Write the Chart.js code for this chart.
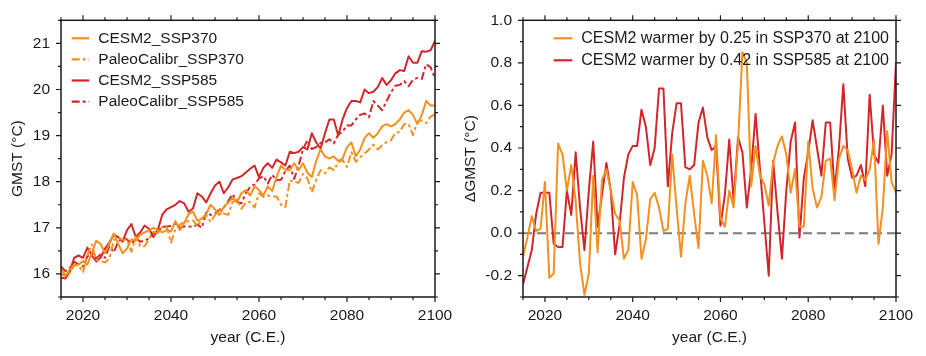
<!DOCTYPE html>
<html><head><meta charset="utf-8">
<script src="https://cdn.jsdelivr.net/npm/chart.js@4.4.1/dist/chart.umd.min.js"></script>
<style>
html,body{margin:0;padding:0;background:#fff;}
#wrap{position:relative;width:926px;height:356px;overflow:hidden;}
.panel{position:absolute;top:0;width:463px;height:356px;}
canvas{display:block;}
</style></head><body>
<div id="wrap">
<div class="panel" style="left:0"><canvas id="c1" width="463" height="356"></canvas></div>
<div class="panel" style="left:463px"><canvas id="c2" width="463" height="356"></canvas></div>
</div>
<script>
// ---- categories ----
const years = [
2015,2016,2017,2018,2019,2020,2021,2022,2023,2024,
2025,2026,2027,2028,2029,2030,2031,2032,2033,2034,
2035,2036,2037,2038,2039,2040,2041,2042,2043,2044,
2045,2046,2047,2048,2049,2050,2051,2052,2053,2054,
2055,2056,2057,2058,2059,2060,2061,2062,2063,2064,
2065,2066,2067,2068,2069,2070,2071,2072,2073,2074,
2075,2076,2077,2078,2079,2080,2081,2082,2083,2084,
2085,2086,2087,2088,2089,2090,2091,2092,2093,2094,
2095,2096,2097,2098,2099,2100];

// ---- left panel: GMST (°C) ----
const cesm2Ssp370 = [
16.0,15.95,16.1,16.2,16.2,16.28,16.2,16.45,16.72,16.65,
16.45,16.65,16.88,16.65,16.45,16.55,16.75,16.72,16.85,16.9,
16.95,17.0,16.95,16.9,16.95,16.92,17.15,16.95,17.1,17.3,
17.35,17.15,17.2,17.3,17.5,17.4,17.28,17.45,17.55,17.65,
17.55,17.75,17.82,17.7,17.9,17.82,17.7,17.9,17.8,18.1,
18.35,18.25,18.25,18.4,18.25,18.4,18.2,18.1,18.45,18.7,
18.55,18.5,18.55,18.45,18.5,18.75,18.85,18.55,18.7,18.95,
19.05,18.95,19.05,19.2,19.25,19.2,19.25,19.35,19.5,19.55,
19.45,19.25,19.45,19.75,19.65,19.65];
const paleoCalibrSsp370 = [
16.11,15.97,16.02,16.19,16.18,16.04,16.41,16.64,16.3,16.28,
16.25,16.33,16.73,16.79,16.74,16.74,16.48,16.81,16.6,16.6,
16.75,16.91,16.89,17.02,17.03,16.68,16.97,17.07,17.13,17.14,
17.16,17.03,17.19,17.28,17.13,17.28,17.39,17.31,17.28,17.56,
17.62,17.41,17.55,17.56,17.44,17.75,17.67,17.7,17.68,17.68,
17.5,17.45,18.03,17.99,17.98,18.17,18.07,17.77,18.04,18.25,
18.18,18.31,18.25,18.42,18.47,18.32,18.64,18.43,18.53,18.61,
18.7,18.8,18.7,18.79,18.86,18.9,19.06,19.08,19.25,19.25,
19.01,19.3,19.33,19.27,19.41,19.46];
const cesm2Ssp585 = [
15.92,15.9,16.05,16.35,16.4,16.35,16.57,16.4,16.27,16.35,
16.55,16.68,16.85,16.8,16.7,16.95,17.08,16.8,16.9,17.05,
16.98,16.8,16.95,17.28,17.4,17.45,17.5,17.58,17.53,17.35,
17.42,17.75,17.68,17.55,17.75,17.92,18.0,17.75,17.88,18.05,
18.08,18.12,18.2,18.28,18.35,18.1,18.3,18.4,18.3,18.48,
18.42,18.35,18.65,18.62,18.65,18.75,18.7,19.05,18.85,18.72,
19.05,19.35,19.35,19.0,19.35,19.6,19.75,19.75,19.72,20.0,
19.92,19.95,20.05,20.25,20.1,20.2,20.35,20.42,20.4,20.72,
20.58,20.58,20.83,20.82,20.85,21.05];
const paleoCalibrSsp585 = [
16.16,16.06,16.13,16.26,16.21,16.16,16.38,16.45,16.34,16.42,
16.35,16.6,16.47,16.7,16.78,16.75,16.65,16.77,16.7,16.72,
16.77,16.9,16.91,17.02,17.03,17.04,17.09,17.0,17.03,17.03,
17.02,17.07,17.0,17.33,17.28,17.31,17.39,17.44,17.58,17.73,
17.56,17.53,17.75,17.89,17.94,18.07,18.12,17.96,18.15,18.03,
18.04,18.23,18.35,18.06,18.35,18.7,18.9,18.71,18.75,18.84,
18.85,18.92,18.83,19.02,19.09,19.22,19.22,19.35,19.45,19.48,
19.4,19.75,19.65,19.55,19.75,19.94,20.08,20.1,20.18,20.07,
20.21,20.25,20.23,20.55,20.48,20.25];

// ---- right panel: ΔGMST (°C) ----
const warmerSsp370 = [
-0.11,-0.02,0.08,0.01,0.02,0.24,-0.21,-0.19,0.42,0.37,
0.2,0.32,0.15,-0.14,-0.29,-0.19,0.27,-0.09,0.25,0.3,
0.2,0.09,0.06,-0.12,-0.08,0.24,0.18,-0.12,-0.03,0.16,
0.19,0.12,0.01,0.02,0.37,0.12,-0.11,0.14,0.27,0.09,
-0.07,0.34,0.27,0.14,0.46,0.07,0.03,0.2,0.12,0.42,
0.85,0.8,0.22,0.41,0.27,0.23,0.13,0.33,0.41,0.455,
0.37,0.19,0.3,0.03,0.03,0.43,0.21,0.12,0.17,0.34,
0.35,0.155,0.35,0.41,0.39,0.3,0.19,0.27,0.25,0.3,
0.44,-0.05,0.12,0.48,0.24,0.19];
const warmerSsp585 = [
-0.24,-0.16,-0.08,0.09,0.19,0.19,0.19,-0.05,-0.065,-0.065,
0.2,0.085,0.38,0.12,-0.08,0.2,0.43,0.03,0.18,0.33,
0.2,-0.1,0.04,0.26,0.37,0.41,0.41,0.58,0.5,0.32,
0.4,0.68,0.68,0.22,0.47,0.61,0.61,0.31,0.3,0.32,
0.52,0.59,0.45,0.39,0.41,0.035,0.18,0.44,0.15,0.45,
0.38,0.12,0.3,0.56,0.3,0.05,-0.2,0.34,0.1,-0.12,
0.2,0.43,0.52,-0.02,0.26,0.38,0.53,0.4,0.27,0.52,
0.52,0.2,0.4,0.7,0.35,0.26,0.27,0.32,0.22,0.65,
0.37,0.33,0.6,0.27,0.37,0.8];
const referenceValue = 0;

// ---- ticks ----
const xMajorTicks = [2020,2040,2060,2080,2100];
const xMinorTicks = [2015,2025,2030,2035,2045,2050,2055,2065,2070,2075,2085,2090,2095];
const leftYMajorTicks = [16,17,18,19,20,21];
const leftYMinorTicks = [15.5,16.5,17.5,18.5,19.5,20.5,21.5];
const rightYMajorTicks = [-0.2,0,0.2,0.4,0.6,0.8,1.0];
const rightYMinorTicks = [-0.3,-0.1,0.1,0.3,0.5,0.7,0.9];

const ORANGE = '#F39020';
const RED = '#D3262B';
const TXT = '#1a1a1a';
const FONT = "'Helvetica Neue', Helvetica, 'Liberation Sans', Arial, sans-serif";
const DASH = [8,3,3,3];

function pts(vals){ return years.map((yr,i)=>({x:yr,y:vals[i]})); }

function makeFrame(xMaj,xMin,yMaj,yMin){
  return {
    id:'axisFrame',
    afterDatasetsDraw(chart){
      const {ctx,chartArea:a,scales:{x,y}} = chart;
      ctx.save();
      ctx.strokeStyle = TXT;
      ctx.lineWidth = 1.5;
      ctx.setLineDash([]);
      ctx.strokeRect(a.left,a.top,a.right-a.left,a.bottom-a.top);
      ctx.lineWidth = 1.2;
      ctx.beginPath();
      const tx=(v,len)=>{const p=x.getPixelForValue(v);ctx.moveTo(p,a.bottom);ctx.lineTo(p,a.bottom+len);ctx.moveTo(p,a.top);ctx.lineTo(p,a.top-len);};
      const ty=(v,len)=>{const p=y.getPixelForValue(v);ctx.moveTo(a.left,p);ctx.lineTo(a.left-len,p);ctx.moveTo(a.right,p);ctx.lineTo(a.right+len,p);};
      xMin.forEach(v=>tx(v,3)); xMaj.forEach(v=>tx(v,5));
      yMin.forEach(v=>ty(v,3)); yMaj.forEach(v=>ty(v,5));
      ctx.stroke();
      ctx.restore();
    }
  };
}

function makeLegend(cfg){
  return {
    id:'panelLegend',
    afterDatasetsDraw(chart){
      const {ctx,chartArea:a} = chart;
      ctx.save();
      ctx.font = cfg.size + 'px ' + FONT;
      ctx.textBaseline = 'middle';
      ctx.textAlign = 'left';
      chart.data.datasets.forEach((ds,i)=>{
        const yy = a.top + cfg.y0 + i*cfg.dy;
        ctx.strokeStyle = ds.borderColor;
        ctx.lineWidth = 2.2;
        ctx.setLineDash(ds.borderDash || []);
        ctx.beginPath();
        ctx.moveTo(a.left+cfg.x0,yy); ctx.lineTo(a.left+cfg.x1,yy);
        ctx.stroke();
        ctx.setLineDash([]);
        ctx.fillStyle = TXT;
        ctx.fillText(ds.label, a.left+cfg.xt, yy+0.5);
      });
      ctx.restore();
    }
  };
}

const zeroLine = {
  id:'zeroLine',
  beforeDatasetsDraw(chart){
    const {ctx,chartArea:a,scales:{y}} = chart;
    const p = y.getPixelForValue(referenceValue);
    ctx.save();
    ctx.strokeStyle = '#7a7a7a';
    ctx.lineWidth = 2;
    ctx.setLineDash([9,5]);
    ctx.beginPath(); ctx.moveTo(a.left,p); ctx.lineTo(a.right,p); ctx.stroke();
    ctx.restore();
  }
};

function makeOptions(c){
  return {
    responsive:false, animation:false, devicePixelRatio:1,
    layout:{padding:{top:16,right:c.padRight,bottom:0,left:0}},
    elements:{point:{radius:0},line:{tension:0,borderWidth:2,borderJoinStyle:'round'}},
    plugins:{legend:{display:false},tooltip:{enabled:false}},
    scales:{
      x:{type:'linear',min:2015,max:2100,
        grid:{display:false,drawTicks:false},border:{display:false},
        afterBuildTicks:s=>{s.ticks=xMajorTicks.map(v=>({value:v}));},
        afterFit:s=>{s.height=59;},
        ticks:{color:TXT,font:{family:FONT,size:15.5},padding:9,maxRotation:0,autoSkip:false,callback:v=>String(v)},
        title:{display:true,text:'year (C.E.)',color:TXT,font:{family:FONT,size:15.5,lineHeight:1},padding:{top:0,bottom:11}}
      },
      y:{type:'linear',min:c.yMin,max:c.yMax,
        grid:{display:false,drawTicks:false},border:{display:false},
        afterBuildTicks:s=>{s.ticks=c.yMajor.map(v=>({value:v}));},
        afterFit:s=>{s.width=c.yWidth;},
        ticks:{color:TXT,font:{family:FONT,size:15.5},padding:11,autoSkip:false,callback:c.yFmt},
        title:{display:true,text:c.yTitle,color:TXT,font:{family:FONT,size:15.5,lineHeight:1},padding:{top:c.titlePad,bottom:0}}
      }
    }
  };
}

new Chart(document.getElementById('c1'),{
  type:'line',
  data:{datasets:[
    {label:'CESM2_SSP370',data:pts(cesm2Ssp370),borderColor:ORANGE,borderWidth:2},
    {label:'PaleoCalibr_SSP370',data:pts(paleoCalibrSsp370),borderColor:ORANGE,borderWidth:2,borderDash:DASH},
    {label:'CESM2_SSP585',data:pts(cesm2Ssp585),borderColor:RED,borderWidth:2},
    {label:'PaleoCalibr_SSP585',data:pts(paleoCalibrSsp585),borderColor:RED,borderWidth:2,borderDash:DASH}
  ]},
  options:makeOptions({padRight:28,yMin:15.5,yMax:21.5,yMajor:leftYMajorTicks,yWidth:61,
    yFmt:v=>String(v),yTitle:'GMST (°C)',titlePad:10}),
  plugins:[makeFrame(xMajorTicks,xMinorTicks,leftYMajorTicks,leftYMinorTicks),
           makeLegend({x0:10.7,x1:28.3,xt:37.3,y0:18,dy:21.1,size:15.5})]
});

new Chart(document.getElementById('c2'),{
  type:'line',
  data:{datasets:[
    {label:'CESM2 warmer by 0.25 in SSP370 at 2100',data:pts(warmerSsp370),borderColor:ORANGE,borderWidth:2},
    {label:'CESM2 warmer by 0.42 in SSP585 at 2100',data:pts(warmerSsp585),borderColor:RED,borderWidth:2}
  ]},
  options:makeOptions({padRight:30,yMin:-0.3,yMax:1.0,yMajor:rightYMajorTicks,yWidth:60,
    yFmt:v=>Number(v).toFixed(1),yTitle:'ΔGMST (°C)',titlePad:0}),
  plugins:[zeroLine,makeFrame(xMajorTicks,xMinorTicks,rightYMajorTicks,rightYMinorTicks),
           makeLegend({x0:30.7,x1:49.3,xt:58.3,y0:18,dy:22,size:16})]
});
</script>
</body></html>
